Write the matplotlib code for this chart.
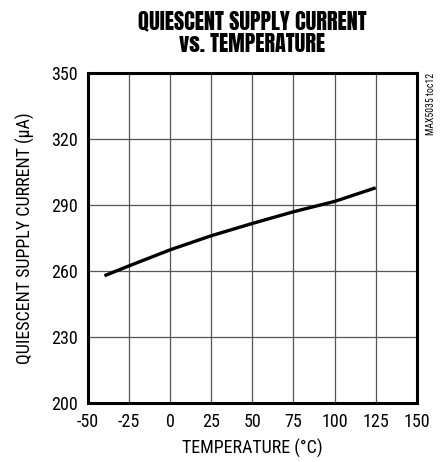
import matplotlib
matplotlib.use("Agg")
import matplotlib.pyplot as plt
import logging

logging.getLogger("matplotlib.font_manager").setLevel(logging.ERROR)

# condensed faces to match the datasheet look, falling back to DejaVu
BODY = ["Roboto Condensed", "Archivo Narrow", "Saira Condensed", "DejaVu Sans"]
TITLE = ["Anton", "Roboto", "DejaVu Sans"]
plt.rcParams["font.family"] = BODY
plt.rcParams["axes.unicode_minus"] = False

# Data
temperature = [-40, -25, 0, 25, 50, 75, 100, 125]
current_ua = [257.8, 262.3, 269.6, 276.0, 281.6, 286.9, 291.6, 297.8]

x_ticks = [-50, -25, 0, 25, 50, 75, 100, 125, 150]
y_ticks = [200, 230, 260, 290, 320, 350]

fig = plt.figure(figsize=(4.42, 4.62), dpi=100)
ax = fig.add_axes([0.199, 0.128, 0.744, 0.714])

ax.plot(temperature, current_ua, color="black", linewidth=2.4, solid_capstyle="butt", zorder=3)

ax.set_xlim(-50, 150)
ax.set_ylim(200, 350)
ax.set_xticks(x_ticks)
ax.set_yticks(y_ticks)
ax.tick_params(length=0, labelsize=13, pad=7)
ax.grid(color="#555555", linewidth=0.9)
for s in ax.spines.values():
    s.set_linewidth(2.2)

ax.set_xlabel("TEMPERATURE (°C)", fontsize=13, labelpad=6)
ax.set_ylabel("QUIESCENT SUPPLY CURRENT (µA)", fontsize=13, labelpad=12)

# title sits centred over the plot area, not the figure
ax.text(0.5, 1.055, "QUIESCENT SUPPLY CURRENT\nvs. TEMPERATURE", transform=ax.transAxes,
        ha="center", va="bottom", fontsize=16, family=TITLE, linespacing=1.05)
fig.text(0.975, 0.842, "MAX5035 toc12", rotation=90, ha="center", va="top", fontsize=7)

fig.savefig("out.png", dpi=100)
